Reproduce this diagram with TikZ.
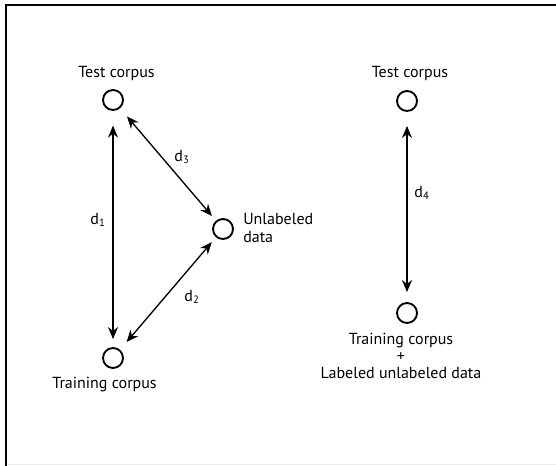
\documentclass[tikz,border=0pt]{standalone}
\usepackage{fontspec}
\setmainfont{PT Sans}
\usetikzlibrary{arrows.meta}

\tikzset{
  vert/.style={circle, draw, line width=1.4pt, minimum size=15pt, inner sep=0pt},
  txt/.style={inner sep=0.75pt, font=\fontsize{12}{12.8}\selectfont},
  dist/.style={line width=1pt, {Stealth[length=9pt,width=7.5pt]}-{Stealth[length=9pt,width=7.5pt]}}
}

\begin{document}
\begin{tikzpicture}[x=0.75pt,y=0.75pt,yscale=-1,xscale=1]
\useasboundingbox (0,0) rectangle (556,466);

%Frame
\draw [line width=1.5pt]   (6,467) -- (6,5) -- (557,5) ;
\draw [color={rgb, 255:red, 235; green, 235; blue, 235 }]   (8,464) -- (556,464) ;

%Circles
\node [vert] (testL) at (113,100) {};
\node [vert] (unlab) at (223,229) {};
\node [vert] (trainL) at (113,358) {};
\node [vert] (testR) at (407,101) {};
\node [vert] (trainR) at (407,313) {};

% Text Node
\node [txt] (testLtxt) at (116.5,74) {Test corpus};
% Text Node
\node [txt, anchor=west, align=left] (unlabtxt) at (242,228) {Unlabeled\\data};
% Text Node
\node [txt] (trainLtxt) at (104.5,385) {Training corpus};
% Text Node
\node [txt] (testRtxt) at (410,74) {Test corpus};
% Text Node
\node [txt, align=center] (trainRtxt) at (401,356) {Training corpus\\+\\Labeled unlabeled data};

%Arrows
\draw [dist, shorten <=11pt, shorten >=6pt]   (testL) -- (trainL) ;
\draw [dist, shorten <=8pt, shorten >=4.5pt]   (testL) -- (unlab) ;
\draw [dist, shorten <=4.8pt, shorten >=7.5pt]   (unlab) -- (trainL) ;
\draw [dist, shorten <=10.5pt, shorten >=7.5pt]   (testR) -- (trainR) ;

% Text Node
\node [txt] (d1) at (98,220) {d\textsubscript{1}};
% Text Node
\node [txt] (d2) at (192,297) {d\textsubscript{2}};
% Text Node
\node [txt] (d3) at (182,157) {d\textsubscript{3}};
% Text Node
\node [txt] (d4) at (422,193) {d\textsubscript{4}};

\end{tikzpicture}
\end{document}
